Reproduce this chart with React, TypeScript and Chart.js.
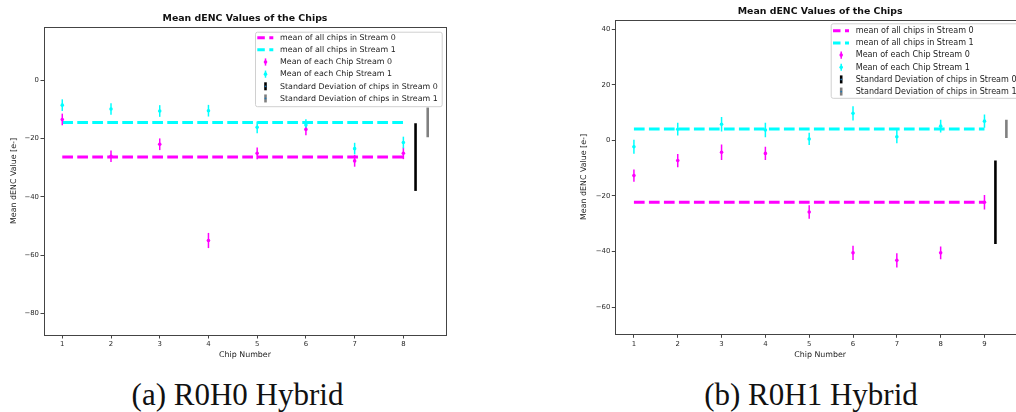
import React, { useEffect, useRef } from "react";
import { Chart, registerables } from "chart.js";
Chart.register(...registerables);

// ---------- Panel (a) R0H0 Hybrid ----------
const chipsA = [1, 2, 3, 4, 5, 6, 7, 8];
const stream0A = [-13.5, -26.1, -22.0, -55.0, -25.1, -16.9, -27.7, -25.1];
const stream0ErrA = [2.0, 2.0, 2.0, 2.6, 2.0, 2.0, 2.0, 2.0];
const stream1A = [-8.6, -9.9, -10.6, -10.5, -16.2, -15.4, -23.5, -21.4];
const stream1ErrA = [2.0, 2.0, 2.0, 2.0, 2.0, 2.0, 2.0, 2.0];
const meanA = [-26.4, -14.5];
const stdA = [11.6, 5.1];
const stdPosA = [8.25, 8.5];
const xTicksA = [1, 2, 3, 4, 5, 6, 7, 8];
const yTicksA = [-80, -60, -40, -20, 0];
const xLimA = [0.625, 8.875];
const yLimA = [-87.4, 18.2];
const captionA = "(a) R0H0 Hybrid";

// ---------- Panel (b) R0H1 Hybrid ----------
const chipsB = [1, 2, 3, 4, 5, 6, 7, 8, 9];
const stream0B = [-12.7, -7.3, -4.3, -4.7, -25.8, -40.5, -43.2, -40.5, -22.3];
const stream0ErrB = [2.2, 2.4, 2.8, 2.4, 2.4, 2.6, 2.6, 2.3, 2.6];
const stream1B = [-2.3, 4.0, 5.8, 3.7, 0.5, 9.7, 1.3, 5.1, 6.9];
const stream1ErrB = [2.5, 2.3, 2.6, 2.6, 2.2, 2.6, 2.4, 2.3, 2.4];
const meanB = [-22.3, 4.1];
const stdB = [15.0, 3.3];
const stdPosB = [9.25, 9.5];
const xTicksB = [1, 2, 3, 4, 5, 6, 7, 8, 9];
const yTicksB = [-60, -40, -20, 0, 20, 40];
const xLimB = [0.575, 9.925];
const yLimB = [-69.8, 43.4];
const captionB = "(b) R0H1 Hybrid";

const legendLabels = [
  "mean of all chips in Stream 0",
  "mean of all chips in Stream 1",
  "Mean of each Chip Stream 0",
  "Mean of each Chip Stream 1",
  "Standard Deviation of chips in Stream 0",
  "Standard Deviation of chips in Stream 1",
];
const titleText = "Mean dENC Values of the Chips";
const xLabelText = "Chip Number";
const yLabelText = "Mean dENC Value [e-]";

const MAGENTA = "#ff00ff";
const CYAN = "#00ffff";
const FONT = "'DejaVu Sans', sans-serif";

type Panel = {
  chips: number[];
  s0: number[];
  e0: number[];
  s1: number[];
  e1: number[];
  mean: number[];
  std: number[];
  stdPos: number[];
  xTicks: number[];
  yTicks: number[];
  xLim: number[];
  yLim: number[];
  // layout (style)
  canvasW: number;
  canvasH: number;
  padTop: number;
  padRight: number;
  yAxisW: number;
  xAxisH: number;
  yLabelOff: number;
  legLeft: number;
  legW: number;
  legTop: number;
  legRow0: number;
  legFont: number;
};

const panelA: Panel = {
  chips: chipsA, s0: stream0A, e0: stream0ErrA, s1: stream1A, e1: stream1ErrA,
  mean: meanA, std: stdA, stdPos: stdPosA, xTicks: xTicksA, yTicks: yTicksA,
  xLim: xLimA, yLim: yLimA,
  canvasW: 470, canvasH: 370, padTop: 27, padRight: 24, yAxisW: 44, xAxisH: 35,
  yLabelOff: 30.5, legLeft: 255, legW: 186.7, legTop: 4.7, legRow0: 6, legFont: 7.9,
};
const panelB: Panel = {
  chips: chipsB, s0: stream0B, e0: stream0ErrB, s1: stream1B, e1: stream1ErrB,
  mean: meanB, std: stdB, stdPos: stdPosB, xTicks: xTicksB, yTicks: yTicksB,
  xLim: xLimB, yLim: yLimB,
  canvasW: 480, canvasH: 370, padTop: 19.7, padRight: 15, yAxisW: 55.3, xAxisH: 35.7,
  yLabelOff: 31.8, legLeft: 270.7, legW: 192, legTop: 3.6, legRow0: 7.5, legFont: 8.05,
};

function makeDecor(p: Panel) {
  return {
    id: "decor",
    afterDatasetDraw(chart: any, args: any) {
      if (args.index !== 0) return;
      const ctx = chart.ctx;
      const xs = chart.scales.x;
      const ys = chart.scales.y;
      ctx.save();
      const ca = chart.chartArea;
      ctx.beginPath();
      ctx.rect(ca.left, ca.top, ca.right - ca.left, ca.bottom - ca.top);
      ctx.clip();
      // error bars of each chip
      const drawErr = (vals: number[], errs: number[], color: string) => {
        ctx.strokeStyle = color;
        ctx.lineWidth = 1.5;
        vals.forEach((v, i) => {
          const x = xs.getPixelForValue(p.chips[i]);
          ctx.beginPath();
          ctx.moveTo(x, ys.getPixelForValue(v - errs[i]));
          ctx.lineTo(x, ys.getPixelForValue(v + errs[i]));
          ctx.stroke();
        });
      };
      drawErr(p.s0, p.e0, MAGENTA);
      drawErr(p.s1, p.e1, CYAN);
      // standard deviation bars
      const stdColors = ["#000000", "#808080"];
      p.std.forEach((s, i) => {
        const x = xs.getPixelForValue(p.stdPos[i]);
        ctx.strokeStyle = stdColors[i];
        ctx.lineWidth = 2.6;
        ctx.beginPath();
        ctx.moveTo(x, ys.getPixelForValue(p.mean[i] - s));
        ctx.lineTo(x, ys.getPixelForValue(p.mean[i] + s));
        ctx.stroke();
      });
      ctx.restore();
    },
    afterDraw(chart: any) {
      const ctx = chart.ctx;
      const ca = chart.chartArea;
      ctx.save();
      // frame
      ctx.strokeStyle = "#444";
      ctx.lineWidth = 1;
      ctx.strokeRect(
        Math.round(ca.left) + 0.5,
        Math.round(ca.top) + 0.5,
        Math.round(ca.right) - Math.round(ca.left),
        Math.round(ca.bottom) - Math.round(ca.top)
      );
      const cx = (ca.left + ca.right) / 2;
      const cy = (ca.top + ca.bottom) / 2;
      ctx.fillStyle = "#111";
      ctx.textAlign = "center";
      ctx.textBaseline = "middle";
      ctx.font = `bold 9.4px ${FONT}`;
      ctx.fillText(titleText, cx, ca.top - 8.5);
      ctx.font = `7.9px ${FONT}`;
      ctx.fillStyle = "#222";
      ctx.fillText(xLabelText, cx, ca.bottom + 20.3);
      ctx.save();
      ctx.translate(ca.left - p.yLabelOff, cy);
      ctx.rotate(-Math.PI / 2);
      ctx.fillText(yLabelText, 0, 0);
      ctx.restore();

      // legend
      const w = p.legW;
      const h = 74.5;
      const bx = p.legLeft;
      const by = ca.top + p.legTop;
      ctx.fillStyle = "rgba(255,255,255,0.85)";
      ctx.strokeStyle = "#d0d0d0";
      ctx.lineWidth = 1;
      ctx.beginPath();
      (ctx as any).roundRect(bx + 0.5, by + 0.5, w, h, 2);
      ctx.fill();
      ctx.stroke();
      ctx.textAlign = "left";
      ctx.textBaseline = "middle";
      ctx.font = `${p.legFont}px ${FONT}`;
      legendLabels.forEach((lab, i) => {
        const ry = by + p.legRow0 + i * 12.15;
        const hx = bx + 2.3;
        const mx = bx + 10.5;
        if (i < 2) {
          ctx.strokeStyle = i === 0 ? MAGENTA : CYAN;
          ctx.lineWidth = 3;
          ctx.setLineDash([7.5, 4.5]);
          ctx.beginPath();
          ctx.moveTo(hx, ry);
          ctx.lineTo(hx + 16, ry);
          ctx.stroke();
          ctx.setLineDash([]);
        } else if (i < 4) {
          const c = i === 2 ? MAGENTA : CYAN;
          ctx.strokeStyle = c;
          ctx.lineWidth = 1.5;
          ctx.beginPath();
          ctx.moveTo(mx, ry - 3.6);
          ctx.lineTo(mx, ry + 3.6);
          ctx.stroke();
          ctx.fillStyle = c;
          ctx.beginPath();
          ctx.arc(mx, ry, 1.8, 0, Math.PI * 2);
          ctx.fill();
        } else {
          ctx.strokeStyle = i === 4 ? "#000" : "#808080";
          ctx.lineWidth = 2.6;
          ctx.beginPath();
          ctx.moveTo(mx, ry - 4);
          ctx.lineTo(mx, ry + 4);
          ctx.stroke();
          ctx.fillStyle = "#1f77b4";
          ctx.beginPath();
          ctx.arc(mx, ry, 0.9, 0, Math.PI * 2);
          ctx.fill();
        }
        ctx.fillStyle = "#222";
        ctx.fillText(lab, bx + 25, ry + 0.3);
      });
      ctx.restore();
    },
  };
}

function makeConfig(p: Panel): any {
  const first = p.chips[0];
  const last = p.chips[p.chips.length - 1];
  return {
    type: "scatter",
    data: {
      datasets: [
        {
          type: "line",
          data: [{ x: first, y: p.mean[0] }, { x: last, y: p.mean[0] }],
          borderColor: MAGENTA,
          borderWidth: 3,
          borderDash: [10.7, 4.3],
          pointRadius: 0,
          fill: false,
          order: 2,
        },
        {
          type: "line",
          data: [{ x: first, y: p.mean[1] }, { x: last, y: p.mean[1] }],
          borderColor: CYAN,
          borderWidth: 3,
          borderDash: [10.7, 4.3],
          pointRadius: 0,
          fill: false,
          order: 2,
        },
        {
          data: p.chips.map((c, i) => ({ x: c, y: p.s0[i] })),
          backgroundColor: MAGENTA,
          borderColor: MAGENTA,
          pointRadius: 1.8,
          borderWidth: 0,
          order: 1,
        },
        {
          data: p.chips.map((c, i) => ({ x: c, y: p.s1[i] })),
          backgroundColor: CYAN,
          borderColor: CYAN,
          pointRadius: 1.8,
          borderWidth: 0,
          order: 1,
        },
      ],
    },
    options: {
      animation: false,
      responsive: false,
      maintainAspectRatio: false,
      events: [],
      layout: { padding: { top: p.padTop, right: p.padRight, left: 0, bottom: 0 } },
      plugins: { legend: { display: false }, tooltip: { enabled: false }, title: { display: false } },
      scales: {
        x: {
          type: "linear",
          min: p.xLim[0],
          max: p.xLim[1],
          afterBuildTicks: (s: any) => {
            s.ticks = p.xTicks.map((v) => ({ value: v }));
          },
          afterFit: (s: any) => {
            s.height = p.xAxisH;
          },
          grid: { drawOnChartArea: false, drawTicks: true, tickLength: 3.5, color: "#444", lineWidth: 1 },
          border: { display: false },
          ticks: {
            autoSkip: false,
            maxRotation: 0,
            padding: 2,
            color: "#2a2a2a",
            font: { family: FONT, size: 6.9 },
            callback: (v: any) => String(v),
          },
        },
        y: {
          type: "linear",
          min: p.yLim[0],
          max: p.yLim[1],
          afterBuildTicks: (s: any) => {
            s.ticks = p.yTicks.map((v) => ({ value: v }));
          },
          afterFit: (s: any) => {
            s.width = p.yAxisW;
          },
          grid: { drawOnChartArea: false, drawTicks: true, tickLength: 3.5, color: "#444", lineWidth: 1 },
          border: { display: false },
          ticks: {
            padding: 1.5,
            color: "#2a2a2a",
            font: { family: FONT, size: 6.9 },
            callback: (v: any) => (v < 0 ? "\u2212" + Math.abs(v) : String(v)),
          },
        },
      },
    },
    plugins: [makeDecor(p)],
  };
}

function ChartPanel({ p, left }: { p: Panel; left: number }) {
  const ref = useRef<HTMLCanvasElement | null>(null);
  useEffect(() => {
    if (!ref.current) return;
    const chart = new Chart(ref.current, makeConfig(p));
    return () => chart.destroy();
  }, [p]);
  return (
    <canvas
      ref={ref}
      width={p.canvasW}
      height={p.canvasH}
      style={{ position: "absolute", left, top: 0, width: p.canvasW, height: p.canvasH }}
    />
  );
}

const captionStyle: React.CSSProperties = {
  position: "absolute",
  top: 379,
  transform: "translateX(-50%)",
  fontFamily: "'Liberation Serif', 'Times New Roman', serif",
  fontSize: 31,
  lineHeight: "31px",
  whiteSpace: "nowrap",
  color: "#111",
};

export default function App() {
  return (
    <div
      style={{
        position: "absolute",
        left: 0,
        top: 0,
        width: 1016,
        height: 412,
        overflow: "hidden",
        background: "#fff",
      }}
    >
      <ChartPanel p={panelA} left={0} />
      <ChartPanel p={panelB} left={560} />
      <div style={{ ...captionStyle, left: 237.5 }}>{captionA}</div>
      <div style={{ ...captionStyle, left: 811 }}>{captionB}</div>
    </div>
  );
}
